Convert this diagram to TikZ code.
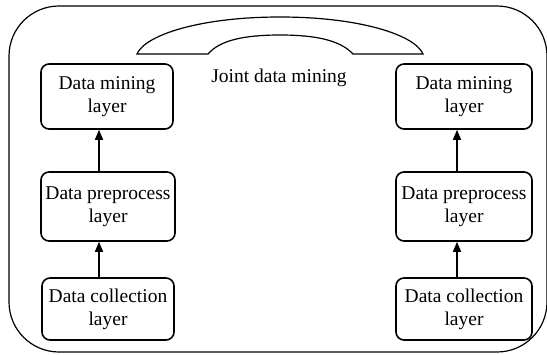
\documentclass[tikz,border=0pt]{standalone}
\usepackage{fontspec}
\setmainfont{Liberation Serif}
\usetikzlibrary{arrows.meta}
\begin{document}
\begin{tikzpicture}[x=1pt,y=-1pt,
  layerbox/.style={draw, line width=1.6pt, rounded corners=8pt, align=center, inner sep=0pt,
    font=\fontsize{19.5}{23}\selectfont},
  frame/.style={draw, line width=1.2pt},
  arr/.style={line width=1.5pt, -{Triangle[width=8pt,length=10pt]}},
  lbl/.style={font=\fontsize{19.5}{23}\selectfont, inner sep=0pt}]
\useasboundingbox (0,0) rectangle (547,354);
% outer frame
\draw[frame, rounded corners=50pt] (9,6) rectangle (547,352);
% joint arch
\draw[frame] (137,54) .. controls (145,35) and (200,17) .. (280,17)
  .. controls (360,17) and (415,35) .. (423,54) -- (353,54)
  .. controls (340,40) and (315,35) .. (280,35)
  .. controls (245,35) and (220,40) .. (208,54) -- cycle;
\node[lbl] (joint) at (279,78) {Joint data mining};
% left column
\node[layerbox, minimum width=132pt, minimum height=65pt] (m1) at (107,96.5) {Data mining\\layer};
\node[layerbox, minimum width=134pt, minimum height=69pt] (p1) at (108,206.5) {Data preprocess\\layer};
\node[layerbox, minimum width=132pt, minimum height=62pt] (c1) at (108,309) {Data collection\\layer};
% right column
\node[layerbox, minimum width=136pt, minimum height=65pt] (m2) at (464,96.5) {Data mining\\layer};
\node[layerbox, minimum width=136pt, minimum height=69pt] (p2) at (464,206.5) {Data preprocess\\layer};
\node[layerbox, minimum width=136pt, minimum height=62pt] (c2) at (464,309) {Data collection\\layer};
% arrows
\coordinate (ax1) at (99,0);
\coordinate (ax2) at (457,0);
\draw[arr] (c1.north -| ax1) -- (p1.south -| ax1);
\draw[arr] (p1.north -| ax1) -- (m1.south -| ax1);
\draw[arr] (c2.north -| ax2) -- (p2.south -| ax2);
\draw[arr] (p2.north -| ax2) -- (m2.south -| ax2);
\end{tikzpicture}
\end{document}
